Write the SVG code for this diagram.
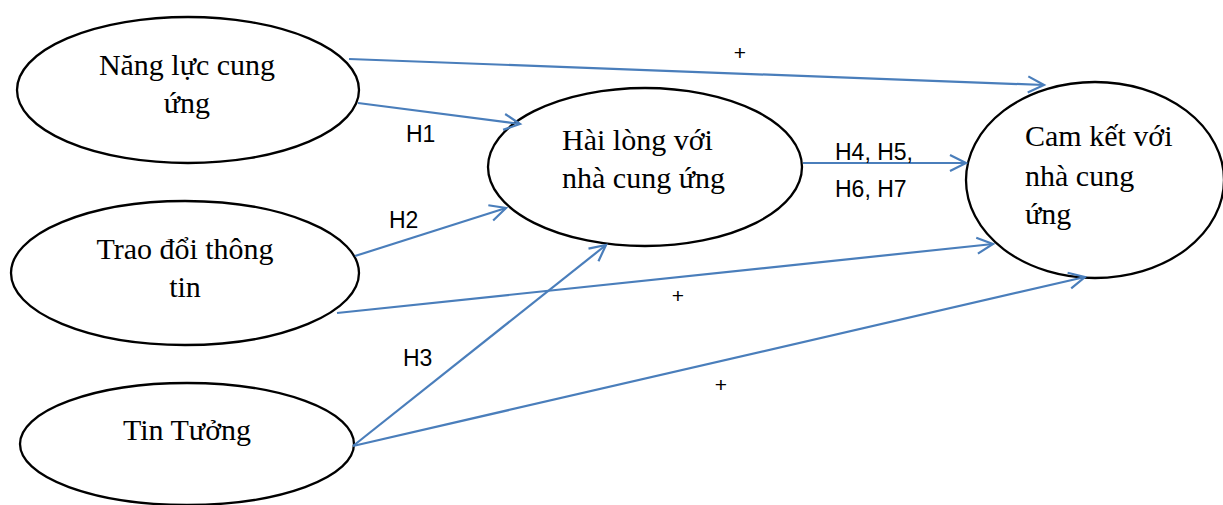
<svg xmlns="http://www.w3.org/2000/svg" width="1223" height="505" viewBox="0 0 1223 505">
<style>
.node{fill:#fff;stroke:#000;stroke-width:2.3}
.t{font-family:"Liberation Serif","Times New Roman",serif;font-size:30px;fill:#000}
.l{font-family:"Liberation Sans",Arial,sans-serif;font-size:23px;fill:#000}
.p{font-family:"Liberation Sans",Arial,sans-serif;font-size:21px;fill:#000}
.c{stroke:#4a7ebb;stroke-width:2.2;fill:none}
</style>
<defs>
<marker id="ah" markerUnits="userSpaceOnUse" markerWidth="22" markerHeight="22" refX="18" refY="10" orient="auto">
<path d="M2,2 L18,10 L2,18" fill="none" stroke="#4a7ebb" stroke-width="2.2"/>
</marker>
</defs>
<g id="n1"><ellipse class="node" cx="188" cy="90" rx="171" ry="73"/>
<text class="t" x="187" y="75" text-anchor="middle">Năng lực cung</text>
<text class="t" x="187" y="113" text-anchor="middle">ứng</text></g>
<g id="n2"><ellipse class="node" cx="185" cy="273" rx="174" ry="72"/>
<text class="t" x="185" y="259" text-anchor="middle">Trao đổi thông</text>
<text class="t" x="185" y="297" text-anchor="middle">tin</text></g>
<g id="n3"><ellipse class="node" cx="187" cy="444" rx="167" ry="61"/>
<text class="t" x="187" y="440" text-anchor="middle">Tin Tưởng</text></g>
<g id="n4"><ellipse class="node" cx="645" cy="167" rx="157" ry="79"/>
<text class="t" x="562" y="150">Hài lòng với</text>
<text class="t" x="562" y="188">nhà cung ứng</text></g>
<g id="n5"><ellipse class="node" cx="1095" cy="180" rx="129" ry="98"/>
<text class="t" x="1025" y="146">Cam kết với</text>
<text class="t" x="1025" y="186">nhà cung</text>
<text class="t" x="1025" y="224">ứng</text></g>
<g id="connectors">
<line class="c" x1="349" y1="59" x2="1044" y2="85" marker-end="url(#ah)"/>
<line class="c" x1="358" y1="103" x2="520" y2="124" marker-end="url(#ah)"/>
<line class="c" x1="355" y1="256" x2="506" y2="208" marker-end="url(#ah)"/>
<line class="c" x1="337" y1="313" x2="993" y2="244" marker-end="url(#ah)"/>
<line class="c" x1="353" y1="446" x2="606" y2="245" marker-end="url(#ah)"/>
<line class="c" x1="353" y1="446" x2="1085" y2="277" marker-end="url(#ah)"/>
<line class="c" x1="803" y1="163" x2="966" y2="163" marker-end="url(#ah)"/>
</g>
<g id="labels">
<text class="p" x="740" y="60" text-anchor="middle">+</text>
<text class="l" x="406" y="142">H1</text>
<text class="l" x="389" y="228">H2</text>
<text class="l" x="403" y="366">H3</text>
<text class="l" x="835" y="160">H4, H5,</text>
<text class="l" x="835" y="197">H6, H7</text>
<text class="p" x="678" y="303" text-anchor="middle">+</text>
<text class="p" x="721" y="392" text-anchor="middle">+</text>
</g>
</svg>
